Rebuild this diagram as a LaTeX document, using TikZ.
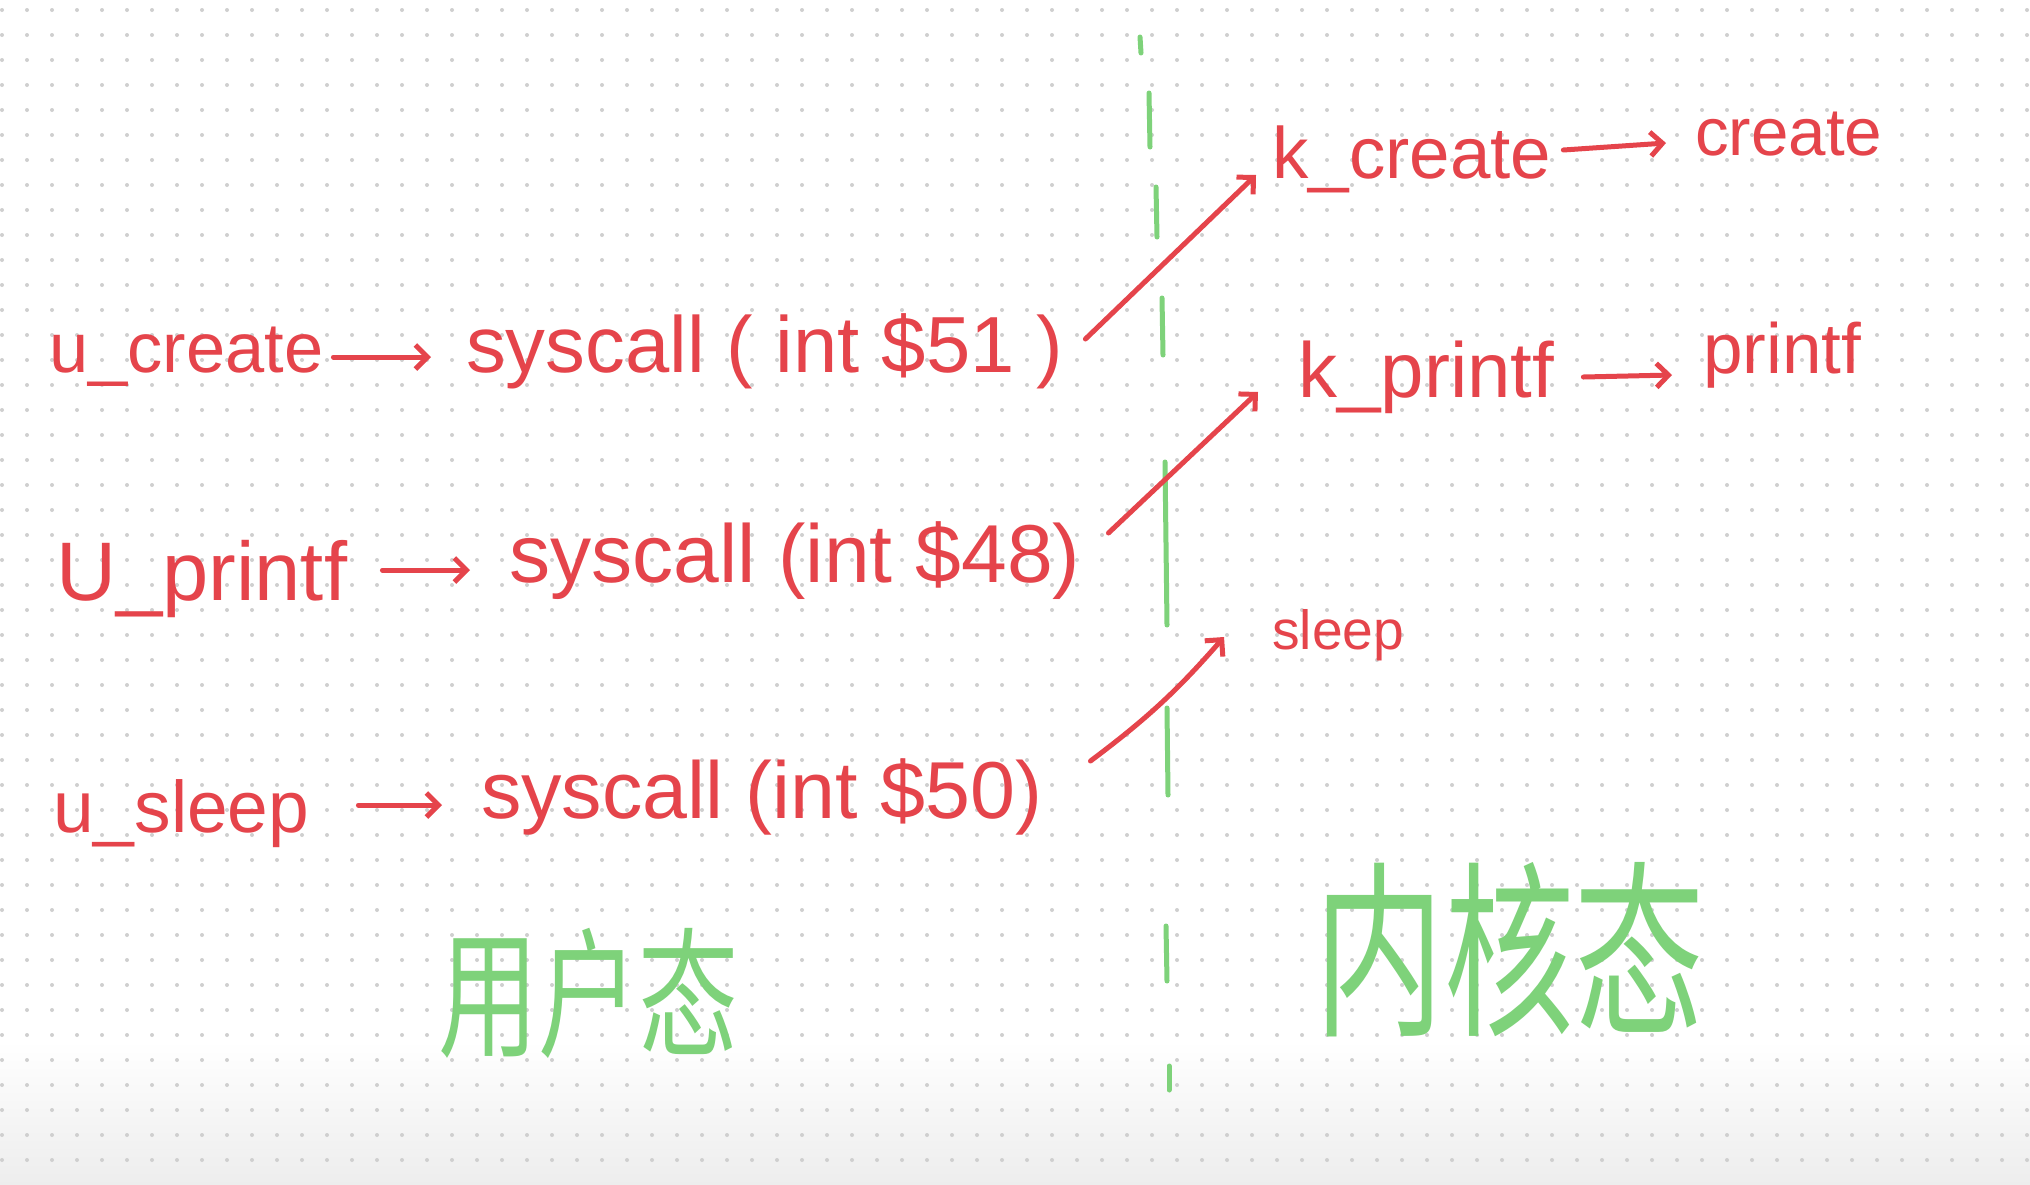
\documentclass[tikz,border=0pt]{standalone}
\usepackage{fontspec}
\setmainfont{Liberation Sans}
\newfontfamily\cjkfont{Noto Sans CJK SC}
\usetikzlibrary{arrows.meta}
\definecolor{inkred}{HTML}{E5444B}
\definecolor{inkgreen}{HTML}{7ED27A}
\definecolor{dotgray}{HTML}{CFCFCF}
\newcommand{\hw}[2]{\resizebox{#1pt}{!}{#2}}
\begin{document}
\begin{tikzpicture}[x=1pt,y=-1pt,
  redtext/.style={text=inkred, inner sep=0pt, anchor=base west, font=\fontsize{60}{60}\selectfont},
  greentext/.style={text=inkgreen, inner sep=0pt, anchor=center},
  redarrow/.style={draw=inkred, line width=5pt, line cap=round, line join=round,
    -{Straight Barb[length=12pt,width=24pt,line width=5pt]}},
  greendash/.style={draw=inkgreen, line width=5pt, line cap=round},
  dotrow/.style={draw=dotgray, line width=4pt, line cap=round, dash pattern=on 0pt off 25pt}]
\useasboundingbox (0,0) rectangle (2030,1184);
\fill[white] (0,0) rectangle (2030,1184);
\shade[top color=white, bottom color=black!7] (0,1040) rectangle (2030,1184);
\foreach \j in {0,...,46} { \draw[dotrow] (2,10+25*\j) -- (2030,10+25*\j); }

% dashed green divider
\draw[greendash] (1140,37) -- (1141,53);
\draw[greendash] (1149,93) -- (1150,147);
\draw[greendash] (1156,187) -- (1157,237);
\draw[greendash] (1162,298) -- (1163,355);
\draw[greendash] (1165,462) -- (1167,625);
\draw[greendash] (1167,708) -- (1168,795);
\draw[greendash] (1166,926) -- (1167,981);
\draw[greendash] (1169,1066) -- (1169,1090);

% left column (user space)
\node[redtext] (ucreate) at (49,372) {\hw{274}{u\_create}};
\node[redtext] (sys1) at (466,372) {\hw{597}{syscall ( int \$51 )}};
\node[redtext] (uprintf) at (56,600) {\hw{291}{U\_printf}};
\node[redtext] (sys2) at (509,582) {\hw{571}{syscall (int \$48)}};
\node[redtext] (usleep) at (53,832) {\hw{256}{u\_sleep}};
\node[redtext] (sys3) at (481,818) {\hw{561}{syscall (int \$50)}};

% right column (kernel space)
\node[redtext] (kcreate) at (1272,178) {\hw{279}{k\_create}};
\node[redtext] (create) at (1695,155) {\hw{187}{create}};
\node[redtext] (kprintf) at (1298,397) {\hw{256}{k\_printf}};
\node[redtext] (printf) at (1703,373) {\hw{158}{printf}};
\node[redtext] (sleep) at (1272,649) {\hw{132}{sleep}};

% horizontal arrows
\draw[redarrow] ([shift={(10,-15)}]ucreate.base east) -- ([shift={(-35,-15)}]sys1.base west);
\draw[redarrow] ([shift={(35,-30)}]uprintf.base east) -- ([shift={(-39,-12)}]sys2.base west);
\draw[redarrow] ([shift={(49,-27)}]usleep.base east) -- ([shift={(-39,-13)}]sys3.base west);
\draw[redarrow] ([shift={(12,-28)}]kcreate.base east) -- ([shift={(-29,-12)}]create.base west);
\draw[redarrow] ([shift={(29,-20)}]kprintf.base east) -- ([shift={(-31,2)}]printf.base west);

% crossing arrows
\draw[redarrow] ([shift={(22,-33)}]sys1.base east) -- ([shift={(-16,-3)}]kcreate.base west);
\draw[redarrow] ([shift={(28,-49)}]sys2.base east) -- ([shift={(-40,-5)}]kprintf.base west);
\draw[redarrow] ([shift={(48,-57)}]sys3.base east) to[bend right=6] ([shift={(-48,-12)}]sleep.base west);

% region labels
\node[greentext, font=\cjkfont\fontsize{100}{100}\selectfont] (user) at (588,993) {\scalebox{1}[1.4]{用户态}};
\node[greentext, font=\cjkfont\fontsize{130}{130}\selectfont] (kernel) at (1509,950) {\scalebox{1}[1.45]{内核态}};
\end{tikzpicture}
\end{document}
